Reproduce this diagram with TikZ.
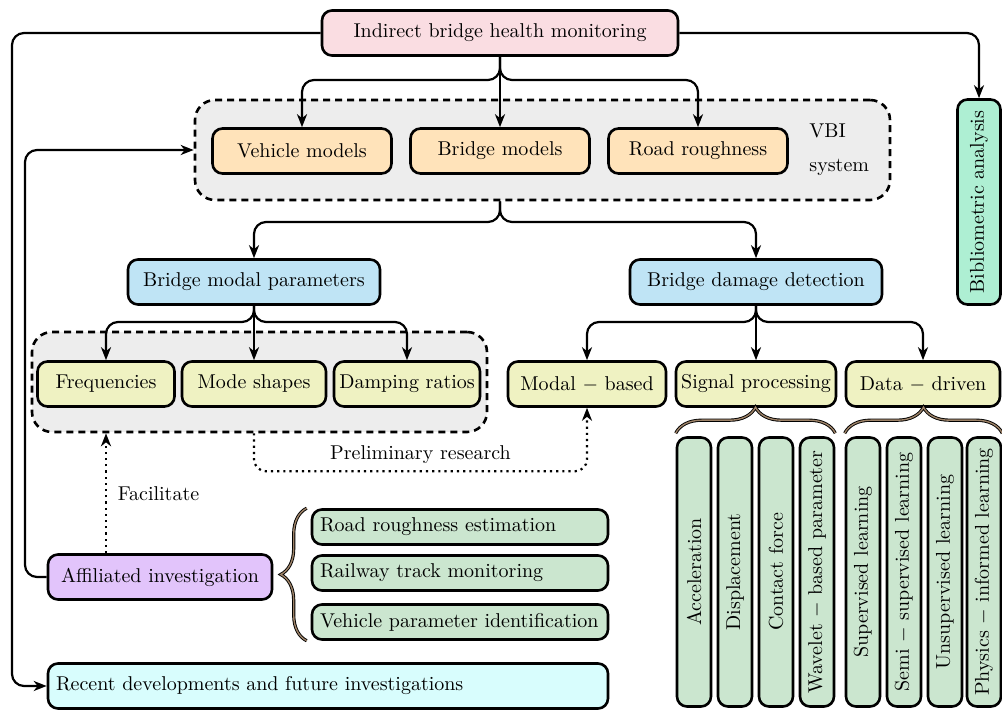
\documentclass[tikz,border=0pt]{standalone}
\usepackage{amsmath,amssymb}
\usetikzlibrary{arrows.meta,backgrounds,decorations.pathreplacing}
\definecolor{cpink}{HTML}{FADDE2}
\definecolor{corange}{HTML}{FFE3BA}
\definecolor{cmint}{HTML}{AEEFD3}
\definecolor{cblue}{HTML}{BFE4F5}
\definecolor{colive}{HTML}{EFF2C2}
\definecolor{cgreen}{HTML}{CBE6CF}
\definecolor{clav}{HTML}{E2C4FB}
\definecolor{ccyan}{HTML}{D8FDFD}
\definecolor{cgrey}{HTML}{EDEDED}

\begin{document}
\begin{tikzpicture}[x=0.5pt,y=-0.5pt,
  box/.style={draw,line width=1.3pt,rounded corners=5pt,minimum height=22.5pt,
    inner sep=2pt,align=center},
  vbox/.style={box,fill=cgreen,rotate=90,minimum width=134.5pt,minimum height=17pt},
  lbox/.style={box,fill=cgreen,minimum height=17.5pt,text width=140pt,inner xsep=4pt,align=left},
  grp/.style={draw,line width=1.3pt,dash pattern=on 3.5pt off 2.5pt,rounded corners=10pt,
    fill=cgrey,minimum height=50pt},
  conn/.style={line width=1.1pt,rounded corners=6pt,-{Stealth[length=6.5pt,width=5pt,inset=2pt]}},
  dotconn/.style={conn,dotted},
  brc/.style={decorate,decoration={brace,amplitude=13pt},draw=black,line width=0.45pt,
    double=brown!60!black!70,double distance=0.7pt}]
  \useasboundingbox (0,0) rectangle (1002,710);
  \node[box,fill=cpink,minimum width=178pt] (ibhm) at (500,33) {Indirect bridge health monitoring};
  \node[box,fill=corange,minimum width=89.5pt] (veh) at (302,151) {Vehicle models};
  \node[box,fill=corange,minimum width=89.5pt] (brm) at (500,151) {Bridge models};
  \node[box,fill=corange,minimum width=89.5pt] (road) at (698,151) {Road roughness};
  \node[anchor=west,align=left,inner sep=0pt] (vbi) at (809,150) {VBI\\[5pt]system};
  \node[box,fill=cmint,rotate=90,minimum width=102.5pt,minimum height=21.5pt] (biblio) at (979,202) {Bibliometric analysis};
  \node[box,fill=cblue,minimum width=126pt] (bmp) at (254,282) {Bridge modal parameters};
  \node[box,fill=cblue,minimum width=126pt] (bdd) at (756,282) {Bridge damage detection};
  \node[box,fill=colive,minimum width=68.5pt] (freq) at (106,384) {Frequencies};
  \node[box,fill=colive,minimum width=72pt] (mode) at (254,384) {Mode shapes};
  \node[box,fill=colive,minimum width=73pt] (damp) at (407,384) {Damping ratios};
  \node[box,fill=colive,minimum width=79pt] (modal) at (587,384) {Modal $-$ based};
  \node[box,fill=colive,minimum width=80pt] (sig) at (756,384) {Signal processing};
  \node[box,fill=colive,minimum width=77pt] (data) at (923,384) {Data $-$ driven};
  \node[vbox] (acc) at (694,572) {Acceleration};
  \node[vbox] (disp) at (735,572) {Displacement};
  \node[vbox] (cf) at (776,572) {Contact force};
  \node[vbox] (wav) at (817,572) {Wavelet $-$ based parameter};
  \node[vbox] (sup) at (863,572) {Supervised learning};
  \node[vbox] (semi) at (904,572) {Semi $-$ supervised learning};
  \node[vbox] (unsup) at (945,572) {Unsupervised learning};
  \node[vbox] (phys) at (984,572) {Physics $-$ informed learning};
  \node[box,fill=clav,minimum width=112pt] (aff) at (160,577) {Affiliated investigation};
  \node[lbox] (rre) at (460,527) {Road roughness estimation};
  \node[lbox] (rtm) at (460,573) {Railway track monitoring};
  \node[lbox] (vpi) at (460,622) {Vehicle parameter identification};
  \node[box,fill=ccyan,text width=272pt,inner xsep=4pt,align=left] (recent) at (328,686) {Recent developments and future investigations};
  \begin{scope}[on background layer]
    \node[grp,minimum width=347.5pt] (vbigrp) at (542.5,150) {};
    \node[grp,minimum width=227.5pt] (modgrp) at (259.5,382) {};
  \end{scope}
  \coordinate (j1) at (500,80);
  \coordinate (j2) at (500,222);
  \coordinate (j3) at (254,322);
  \coordinate (j4) at (756,322);
  \coordinate (lft) at (12,686);
  \coordinate (lft2) at (25,150);
  \draw[conn] (ibhm.south) |- (veh.north |- j1) -- (veh.north);
  \draw[conn] (ibhm.south) -- (brm.north);
  \draw[conn] (ibhm.south) |- (road.north |- j1) -- (road.north);
  \draw[conn] (ibhm.east) -| (biblio.east);
  \draw[conn] (ibhm.west) -| (lft) -- (recent.west);
  \draw[conn] (aff.west) -| (lft2) -- (vbigrp.west);
  \draw[conn] (vbigrp.south -| j2) |- (bmp.north |- j2) -- (bmp.north);
  \draw[conn] (vbigrp.south -| j2) |- (bdd.north |- j2) -- (bdd.north);
  \draw[conn] (bmp.south) |- (freq.north |- j3) -- (freq.north);
  \draw[conn] (bmp.south) -- (mode.north);
  \draw[conn] (bmp.south) |- (damp.north |- j3) -- (damp.north);
  \draw[conn] (bdd.south) |- (modal.north |- j4) -- (modal.north);
  \draw[conn] (bdd.south) -- (sig.north);
  \draw[conn] (bdd.south) |- (data.north |- j4) -- (data.north);
  \draw[dotconn] (aff.north -| freq) -- (modgrp.south -| freq) node[midway,right,xshift=2pt] {Facilitate};
  \draw[dotconn] (modgrp.south -| mode) -- ++(0,38) -| node[pos=0.25,above] {Preliminary research} (modal.south);
  \draw[brc] ([yshift=1.5pt]acc.north east) -- ([yshift=1.5pt]wav.south east);
  \draw[brc] ([yshift=1.5pt]sup.north east) -- ([yshift=1.5pt]phys.south east);
  \draw[brc] ([xshift=-2pt]vpi.south west) -- ([xshift=-2pt]rre.north west);
\end{tikzpicture}
\end{document}
